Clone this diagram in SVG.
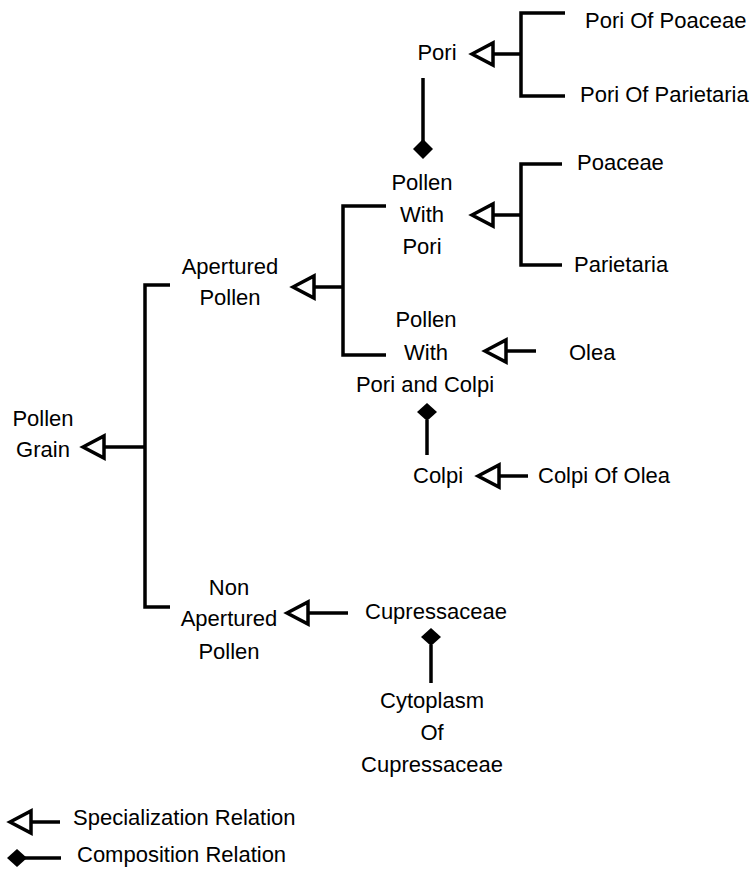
<svg xmlns="http://www.w3.org/2000/svg" width="752" height="869" viewBox="0 0 752 869">
<style>
text{font-family:"Liberation Sans",Arial,sans-serif;font-size:22px;fill:#000}
.m{text-anchor:middle}
.ln{fill:none;stroke:#000;stroke-width:3.5}
.tri{fill:#fff;stroke:#000;stroke-width:3.5;stroke-linejoin:miter}
.dia{fill:#000;stroke:none}
</style>
<rect width="752" height="869" fill="#fff"/>
<g id="connectors">
<path class="ln" d="M565,13 H521 V96 H565 M521,54 H493"/>
<polygon class="tri" points="472,54 493,43 493,65"/>
<path class="ln" d="M423,78 V142"/>
<polygon class="dia" points="423,139 433,149 423,159 413,149"/>
<path class="ln" d="M562,164 H521 V265 H562 M521,215 H493"/>
<polygon class="tri" points="472,215 493,204 493,226"/>
<path class="ln" d="M386,206 H343 V355 H386 M343,287 H314"/>
<polygon class="tri" points="293,287 314,276 314,298"/>
<path class="ln" d="M536,351 H506"/>
<polygon class="tri" points="485,351 506,340 506,362"/>
<path class="ln" d="M427,420 V455"/>
<polygon class="dia" points="427,403 437,412 427,421 417,412"/>
<path class="ln" d="M528,476 H499"/>
<polygon class="tri" points="478,476 499,465 499,487"/>
<path class="ln" d="M170,285 H145 V607 H170 M145,447 H104"/>
<polygon class="tri" points="83,447 104,436 104,458"/>
<path class="ln" d="M348,613 H308"/>
<polygon class="tri" points="287,613 308,602 308,624"/>
<path class="ln" d="M431,645 V683"/>
<polygon class="dia" points="431,628 441,637 431,646 421,637"/>
</g>
<g id="node-pori"><text class="m" x="437" y="60">Pori</text></g>
<g id="node-pori-of-poaceae"><text x="585" y="28">Pori Of Poaceae</text></g>
<g id="node-pori-of-parietaria"><text x="580" y="102">Pori Of Parietaria</text></g>
<g id="node-pollen-with-pori"><text class="m" x="422" y="190">Pollen</text><text class="m" x="422" y="222">With</text><text class="m" x="422" y="254">Pori</text></g>
<g id="node-poaceae"><text x="577" y="170">Poaceae</text></g>
<g id="node-parietaria"><text x="574" y="272">Parietaria</text></g>
<g id="node-apertured-pollen"><text class="m" x="230" y="274">Apertured</text><text class="m" x="230" y="305">Pollen</text></g>
<g id="node-pollen-with-pori-and-colpi"><text class="m" x="426" y="327">Pollen</text><text class="m" x="426" y="360">With</text><text class="m" x="425" y="392">Pori and Colpi</text></g>
<g id="node-olea"><text x="569" y="360">Olea</text></g>
<g id="node-colpi"><text x="413" y="483">Colpi</text></g>
<g id="node-colpi-of-olea"><text x="538" y="483">Colpi Of Olea</text></g>
<g id="node-pollen-grain"><text class="m" x="43" y="426">Pollen</text><text class="m" x="43" y="457">Grain</text></g>
<g id="node-non-apertured-pollen"><text class="m" x="229" y="595">Non</text><text class="m" x="229" y="626">Apertured</text><text class="m" x="229" y="659">Pollen</text></g>
<g id="node-cupressaceae"><text x="365" y="619">Cupressaceae</text></g>
<g id="node-cytoplasm"><text class="m" x="432" y="708">Cytoplasm</text><text class="m" x="432" y="740">Of</text><text class="m" x="432" y="772">Cupressaceae</text></g>
<g id="legend">
<path class="ln" d="M60,822 H31"/>
<polygon class="tri" points="10,822 31,811 31,833"/>
<text x="73" y="825">Specialization Relation</text>
<path class="ln" d="M61,858 H24"/>
<polygon class="dia" points="17,849 27,858 17,867 7,858"/>
<text x="77" y="862">Composition Relation</text>
</g>
</svg>
